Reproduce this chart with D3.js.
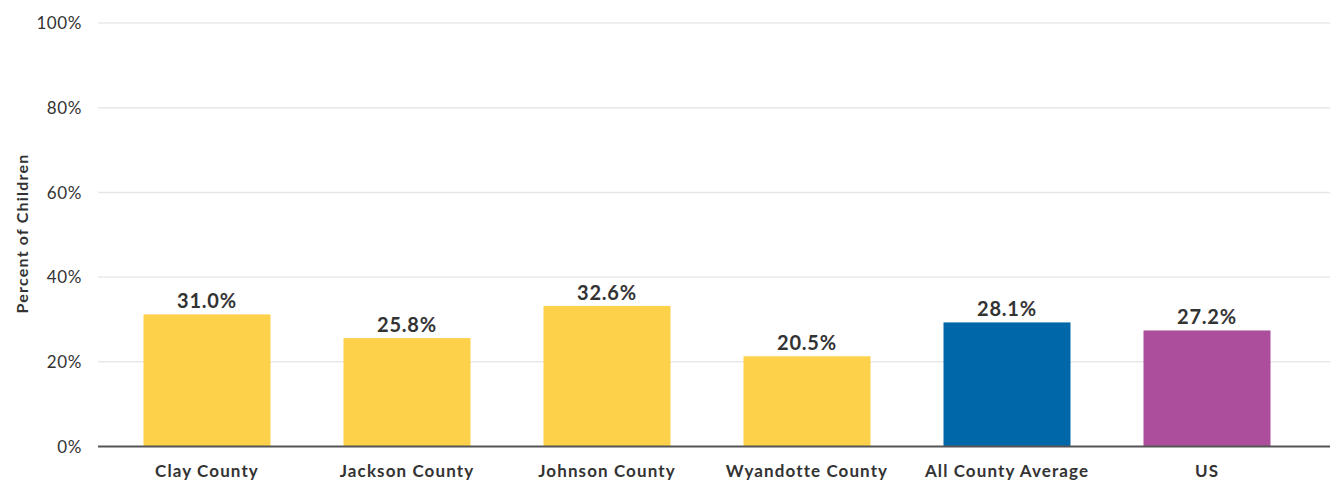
<!DOCTYPE html>
<html><head><meta charset="utf-8">
<script src="https://cdn.jsdelivr.net/npm/d3@7/dist/d3.min.js"></script>
<style>body{margin:0;background:#fff;} svg{display:block;font-family:Lato,"Open Sans",sans-serif;}</style>
</head><body>
<svg id="c" width="1330" height="482"></svg>
<script>
const categories = ["Clay County","Jackson County","Johnson County","Wyandotte County","All County Average","US"];
// bar heights as drawn in the reference picture
const values = [31.2, 25.6, 33.2, 21.3, 29.3, 27.4];
// value labels printed above the bars
const valueLabels = ["31.0%","25.8%","32.6%","20.5%","28.1%","27.2%"];
const barColors = ["#FDD14A","#FDD14A","#FDD14A","#FDD14A","#0068A8","#AC4E9B"];
const yTicks = [0,20,40,60,80,100];
const yTickLabels = ["0%","20%","40%","60%","80%","100%"];
const yTitle = "Percent of Children";

const svg = d3.select("#c");
const x = d3.scaleBand().domain(categories).range([107.5,1306.5]).paddingInner(0.365).paddingOuter(0.18);
const y = d3.scaleLinear().domain([0,100]).range([446.5,23]);

// gridlines
svg.append("g").selectAll("line").data(yTicks.filter(d=>d>0)).join("line")
  .attr("x1",98).attr("x2",1330).attr("y1",d=>y(d)).attr("y2",d=>y(d))
  .attr("stroke","#e8e8e8").attr("stroke-width",1.5);

// y tick labels
svg.append("g").selectAll("text").data(yTicks).join("text")
  .attr("x",82).attr("y",d=>y(d)).attr("dy","0.36em").attr("text-anchor","end")
  .attr("font-size",17).attr("fill","#333").attr("letter-spacing","0.6")
  .text((d,i)=>yTickLabels[i]);

// bars
svg.append("g").selectAll("rect").data(values).join("rect")
  .attr("x",(d,i)=>x(categories[i])).attr("width",x.bandwidth())
  .attr("y",d=>y(d)).attr("height",d=>y(0)-y(d))
  .attr("fill",(d,i)=>barColors[i]);

// value labels
svg.append("g").selectAll("text").data(values).join("text")
  .attr("x",(d,i)=>x(categories[i])+x.bandwidth()/2).attr("y",d=>y(d)-6)
  .attr("text-anchor","middle").attr("font-size",20).attr("font-weight","bold")
  .attr("fill","#333").attr("letter-spacing","0.8").text((d,i)=>valueLabels[i]);

// baseline
svg.append("line").attr("x1",98).attr("x2",1330).attr("y1",y(0)).attr("y2",y(0))
  .attr("stroke","#555").attr("stroke-width",2);

// x labels
svg.append("g").selectAll("text").data(categories).join("text")
  .attr("x",d=>x(d)+x.bandwidth()/2).attr("y",477)
  .attr("text-anchor","middle").attr("font-size",17).attr("font-weight","bold")
  .attr("fill","#333").attr("letter-spacing","1.1").text(d=>d);

// y title
svg.append("text").attr("transform","translate(28,233.5) rotate(-90)")
  .attr("text-anchor","middle").attr("font-size",16).attr("font-weight","bold")
  .attr("fill","#333").attr("letter-spacing","1.2").text(yTitle);
</script>
</body></html>
